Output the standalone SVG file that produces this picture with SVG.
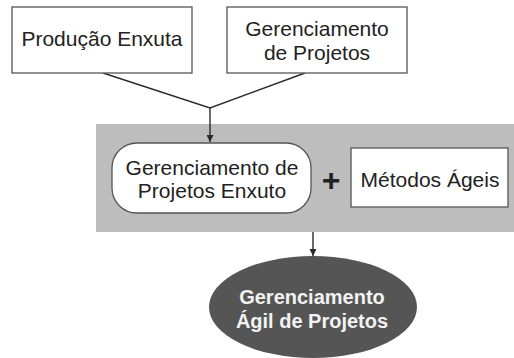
<svg xmlns="http://www.w3.org/2000/svg" width="514" height="358" viewBox="0 0 514 358">
<style>
.box{fill:#fff;stroke:#555;stroke-width:1.3}
.t{font-family:"Liberation Sans",Arial,sans-serif;font-size:21px;fill:#222;text-anchor:middle}
.tb{font-family:"Liberation Sans",Arial,sans-serif;font-size:20px;font-weight:bold;fill:#f2f2f2;text-anchor:middle}
.c{fill:none;stroke:#2a2a2a;stroke-width:1.4}
</style>
<defs>
<marker id="ah" viewBox="0 0 10 10" refX="10" refY="5" markerWidth="7" markerHeight="7" markerUnits="userSpaceOnUse" orient="auto">
<path d="M0,0 L10,5 L0,10 z" fill="#2a2a2a"/>
</marker>
</defs>
<rect width="514" height="358" fill="#fff"/>
<g id="band">
<rect x="96" y="124" width="418" height="108" fill="#bdbdbd"/>
</g>
<g id="connectors">
<polyline class="c" points="103,73 210,108 305,73"/>
<line class="c" x1="210" y1="108" x2="210" y2="142" marker-end="url(#ah)"/>
<line class="c" x1="313" y1="232" x2="313" y2="256" marker-end="url(#ah)"/>
</g>
<g id="producao">
<rect class="box" x="12" y="7" width="180" height="66"/>
<text class="t" x="102" y="46">Produção Enxuta</text>
</g>
<g id="gerenciamento">
<rect class="box" x="227" y="7" width="180" height="66"/>
<text class="t" x="317" y="36">Gerenciamento</text>
<text class="t" x="317" y="60">de Projetos</text>
</g>
<g id="enxuto">
<rect class="box" x="112" y="143" width="199" height="70" rx="25" ry="25"/>
<text class="t" x="212" y="175">Gerenciamento de</text>
<text class="t" x="212" y="198">Projetos Enxuto</text>
</g>
<g id="plus">
<text x="331" y="191" font-family="'Liberation Sans',Arial,sans-serif" font-size="32" font-weight="bold" fill="#222" text-anchor="middle">+</text>
</g>
<g id="metodos">
<rect class="box" x="351" y="148" width="157" height="59"/>
<text class="t" x="430" y="187">Métodos Ágeis</text>
</g>
<g id="agil">
<ellipse cx="313" cy="307" rx="104" ry="51" fill="#555"/>
<text class="tb" x="312" y="304">Gerenciamento</text>
<text class="tb" x="312" y="328">Ágil de Projetos</text>
</g>
</svg>
